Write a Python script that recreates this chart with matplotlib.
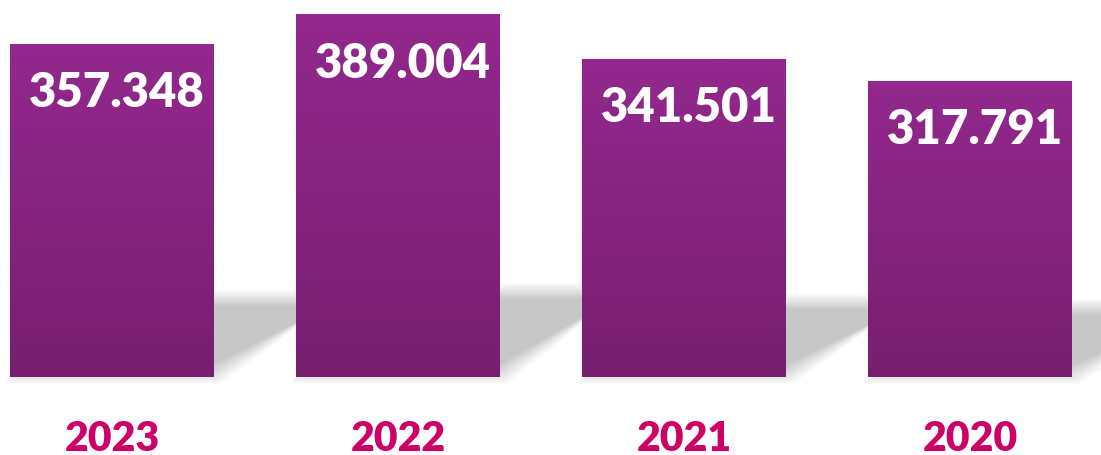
import matplotlib
matplotlib.use("Agg")
import matplotlib.pyplot as plt
import numpy as np
from matplotlib.patches import Polygon

years = ["2023", "2022", "2021", "2020"]
values = [357.348, 389.004, 341.501, 317.791]
labels = ["357.348", "389.004", "341.501", "317.791"]

top_col = np.array([0x93, 0x28, 0x8e]) / 255.
bot_col = np.array([0x77, 0x1f, 0x6f]) / 255.
year_col = "#cc0066"

px = 286.0          # pixels per bar slot
py = 0.931          # pixels per unit
W = 204 / px

fig = plt.figure(figsize=(11.01, 4.55), dpi=100)
ax = fig.add_axes([0, 0, 1, 1])
ax.axis("off")

x = np.arange(len(values))

# soft shadow lying behind each bar
shear = 125 / px
n = 14
a = 1 - 0.8 ** (1.0 / n)
for xi, v in zip(x, values):
    h = 0.24 * v
    for k in range(n):
        e = (k - n / 2) * 1.2   # pixels grown/shrunk
        ex, ey = e / px, e / py
        xl, xr = xi - W / 2 - ex, xi + W / 2 + ex
        poly = [(xl, -ey), (xr, -ey), (xr + shear, h + ey), (xl + shear, h + ey)]
        ax.add_patch(Polygon(poly, closed=True, facecolor="black", alpha=a,
                             edgecolor="none", zorder=1))

# gradient bars
grad = np.linspace(0, 1, 256)[:, None]
img = top_col[None, None, :] * (1 - grad[..., None]) + bot_col[None, None, :] * grad[..., None]
for xi, v in zip(x, values):
    ax.imshow(img, extent=(xi - W / 2, xi + W / 2, 0, v), aspect="auto",
              interpolation="bilinear", zorder=2)

for xi, v, lab in zip(x, values, labels):
    ax.text(xi + 5 / px, v - 63 / py, lab, ha="center", va="baseline",
            color="white", fontsize=34, fontweight="heavy", family="Lato", zorder=3)

for xi, yr in zip(x, years):
    ax.text(xi, -74 / py, yr, ha="center", va="baseline", color=year_col,
            fontsize=29.5, fontweight="heavy", family="Lato", zorder=3)

ax.set_xlim(-112 / px, (1101 - 112) / px)
ax.set_ylim(-(455 - 377) / py, 377 / py)

fig.savefig("out.png", dpi=100)
